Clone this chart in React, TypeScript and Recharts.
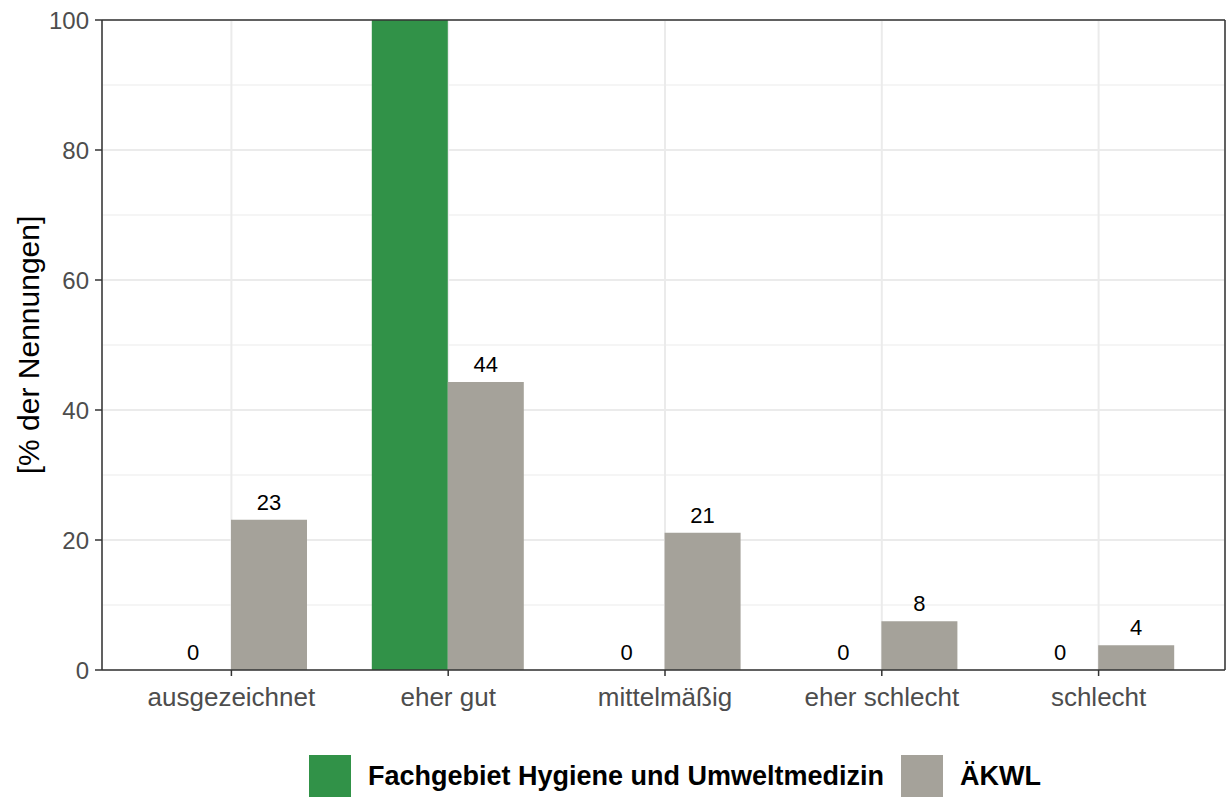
import React from "react";
import {
  BarChart,
  Bar,
  XAxis,
  YAxis,
  CartesianGrid,
  LabelList,
} from "recharts";

const CATEGORIES = ["ausgezeichnet", "eher gut", "mittelmäßig", "eher schlecht", "schlecht"];
const FACHGEBIET = [0, 100, 0, 0, 0];
const AEKWL = [23.1, 44.3, 21.1, 7.5, 3.8];
const SERIES_NAMES = ["Fachgebiet Hygiene und Umweltmedizin", "ÄKWL"];
const MAJOR_TICKS = [0, 20, 40, 60, 80, 100];
const MINOR_TICKS = [10, 30, 50, 70, 90];

const COLORS = ["#319248", "#a5a29a"];
const FONT = "'Liberation Sans', Arial, Helvetica, sans-serif";
const BORDER = { stroke: "#333", strokeWidth: 1.5 };

const data = CATEGORIES.map((name, i) => ({
  name,
  fach: FACHGEBIET[i],
  aekwl: AEKWL[i],
}));

// rotated y axis title, centred on the panel
const YTitle = ({ viewBox }: any) => {
  const cx = 28;
  const cy = viewBox.y + viewBox.height / 2;
  return (
    <text
      x={cx}
      y={cy}
      transform={`rotate(-90, ${cx}, ${cy})`}
      textAnchor="middle"
      dominantBaseline="central"
      fontSize={30}
      fontFamily={FONT}
      fill="#000"
    >
      [% der Nennungen]
    </text>
  );
};

// the 100 label sits outside the panel in the original, so it is dropped
const renderValue = (props: any) => {
  const { x, y, width, height, value } = props;
  if (value >= 100) return null;
  const top = Math.min(y, y + height);
  return (
    <text
      x={x + width / 2}
      y={top - 10}
      textAnchor="middle"
      fontSize={22}
      fontFamily={FONT}
      fill="#000"
    >
      {String(Math.round(value))}
    </text>
  );
};

const App: React.FC = () => {
  return (
    <div style={{ position: "absolute", left: 0, top: 0, width: 1231, height: 799, background: "#fff" }}>
      <BarChart
        width={1231}
        height={799}
        data={data}
        margin={{ top: 19, right: 5, left: 0, bottom: 79 }}
        barSize={76}
        barGap={0}
      >
        <CartesianGrid stroke="#ebebeb" strokeWidth={2} />
        <CartesianGrid yAxisId="minor" stroke="#ebebeb" strokeWidth={1} vertical={false} />
        <XAxis
          dataKey="name"
          padding={{ left: 21, right: 18 }}
          height={50}
          tickSize={6}
          tickMargin={12}
          axisLine={BORDER}
          tickLine={BORDER}
          tick={{ fill: "#4d4d4d", fontSize: 26, fontFamily: FONT }}
        />
        <XAxis
          xAxisId="top"
          dataKey="name"
          orientation="top"
          height={1}
          padding={{ left: 21, right: 18 }}
          axisLine={BORDER}
          tick={false}
          tickLine={false}
        />
        <YAxis
          width={102}
          domain={[0, 100]}
          ticks={MAJOR_TICKS}
          allowDataOverflow
          tickSize={7}
          tickMargin={6}
          axisLine={BORDER}
          tickLine={BORDER}
          tick={{ fill: "#4d4d4d", fontSize: 24, fontFamily: FONT }}
          label={<YTitle />}
        />
        <YAxis
          yAxisId="right"
          orientation="right"
          width={1}
          domain={[0, 100]}
          axisLine={BORDER}
          tick={false}
          tickLine={false}
        />
        <YAxis yAxisId="minor" hide domain={[0, 100]} ticks={MINOR_TICKS} allowDataOverflow />
        <Bar dataKey="fach" name={SERIES_NAMES[0]} fill={COLORS[0]} minPointSize={0.01} isAnimationActive={false}>
          <LabelList dataKey="fach" content={renderValue} />
        </Bar>
        <Bar dataKey="aekwl" name={SERIES_NAMES[1]} fill={COLORS[1]} isAnimationActive={false}>
          <LabelList dataKey="aekwl" content={renderValue} />
        </Bar>
      </BarChart>

      {/* legend below the panel */}
      <div
        style={{
          position: "absolute",
          top: 755,
          left: 309,
          height: 42,
          display: "flex",
          alignItems: "center",
          fontFamily: FONT,
          fontWeight: "bold",
          fontSize: 27,
          color: "#000",
          whiteSpace: "nowrap",
        }}
      >
        {SERIES_NAMES.map((s, i) => (
          <div key={s} style={{ display: "flex", alignItems: "center", marginLeft: i > 0 ? 17 : 0 }}>
            <div style={{ width: 42, height: 42, background: COLORS[i], marginRight: 17 }} />
            <span>{s}</span>
          </div>
        ))}
      </div>
    </div>
  );
};

export default App;
